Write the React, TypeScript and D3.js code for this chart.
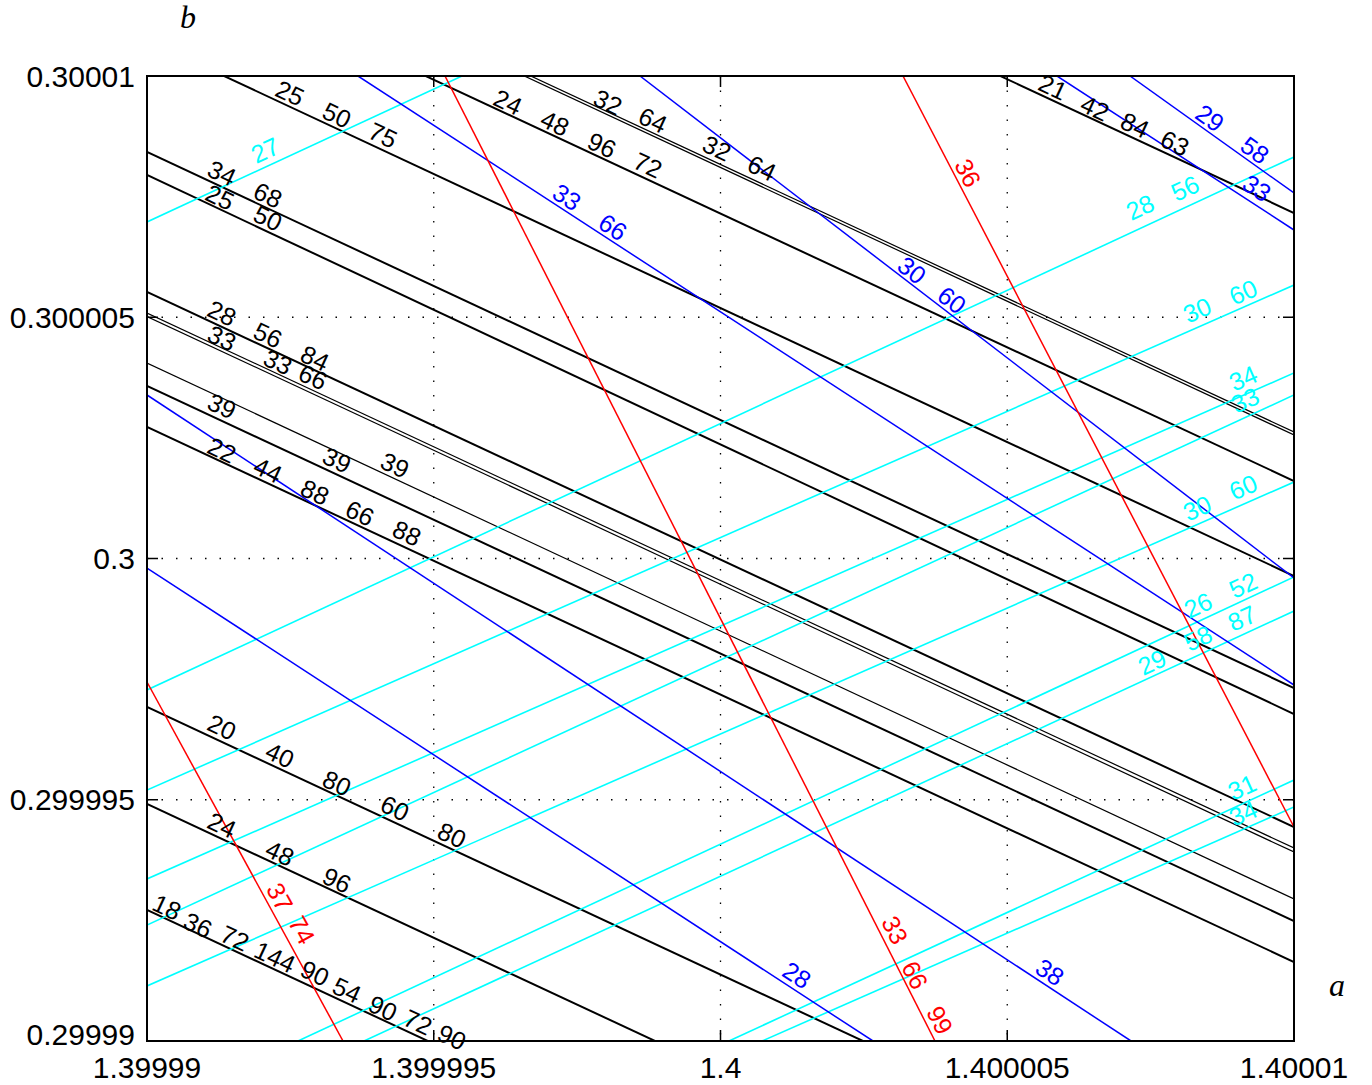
import React from 'react';
import * as d3 from 'd3';

// Axis values: a (horizontal) and b (vertical)
const A0 = 1.4;
const B0 = 0.3;
const U = 1e-6; // offsets below are in units of 1e-6 from (A0, B0)

const xTicks = [1.39999, 1.399995, 1.4, 1.400005, 1.40001];
const xTickLabels = ['1.39999', '1.399995', '1.4', '1.400005', '1.40001'];
const yTicks = [0.29999, 0.299995, 0.3, 0.300005, 0.30001];
const yTickLabels = ['0.29999', '0.299995', '0.3', '0.300005', '0.30001'];

// [id, da1, db1, da2, db2]
const blackLines: [string, number, number, number, number][] = [
  ['B1', -10, 10.746, 10, -0.363],
  ['B2', -10, 12.694, 10, 1.606],
  ['B3a', -10, 13.71, 10, 2.622],
  ['B3b', -10, 13.648, 10, 2.56],
  ['B4', -10, 18.249, 10, 7.161],
  ['B5', -10, 8.425, 10, -2.684],
  ['B6', -10, 7.948, 10, -3.223],
  ['B7', -10, 5.523, 10, -5.565],
  ['B8a', -10, 5.088, 10, -6.0],
  ['B8b', -10, 5.016, 10, -6.083],
  ['B9', -10, 4.052, 10, -7.057],
  ['B10', -10, 3.575, 10, -7.513],
  ['B11', -10, 2.725, 10, -8.363],
  ['B12', -10, -3.078, 10, -14.166],
  ['B13', -10, -5.088, 10, -16.176],
  ['B14', -10, -7.285, 10, -18.373],
];
const thinLines = ['B3a', 'B3b', 'B8a', 'B8b', 'B9'];

const blueLines: [string, number, number, number, number][] = [
  ['L1', -6.321, 10, 10, -2.622],
  ['L2', -1.404, 10, 10, -0.404],
  ['L3', 7.14, 10, 10, 7.575],
  ['L4', 5.868, 10, 10, 6.808],
  ['L5', -10, 3.389, 7.158, -10],
  ['L6', -10, -0.197, 2.659, -10],
];

const redLines: [string, number, number, number, number][] = [
  ['R1', -4.804, 10, 3.74, -10],
  ['R2', 3.182, 10, 10, -5.565],
  ['R3', -10, -2.56, -6.582, -10],
];

const cyanLines: [string, number, number, number, number][] = [
  ['C1', -10, 6.974, -4.507, 10],
  ['C2', -10, -2.725, 10, 8.321],
  ['C3', -10, -4.798, 10, 5.668],
  ['C4', -10, -6.642, 10, 3.845],
  ['C5', -10, -7.596, 10, 3.389],
  ['C6', -10, -8.86, 10, 1.585],
  ['C7', -7.367, -10, 10, -0.383],
  ['C8', -6.216, -10, 10, -1.088],
  ['C9', 0.148, -10, 10, -4.591],
  ['C10', 0.724, -10, 10, -5.15],
];

// [text, lineId, da, db]
const blackLabels: [string, string, number, number][] = [
  ['25', 'B1', -7.507, 9.648], ['50', 'B1', -6.687, 9.192], ['75', 'B1', -5.885, 8.777],
  ['34', 'B5', -8.692, 7.99], ['68', 'B5', -7.89, 7.534],
  ['25', 'B6', -8.727, 7.492], ['50', 'B6', -7.89, 7.057],
  ['24', 'B2', -3.705, 9.461], ['48', 'B2', -2.886, 9.026], ['96', 'B2', -2.066, 8.57], ['72', 'B2', -1.264, 8.155],
  ['32', 'B3a', -1.962, 9.461], ['64', 'B3a', -1.177, 9.088], ['32', 'B3a', -0.061, 8.508], ['64', 'B3a', 0.724, 8.093],
  ['21', 'B4', 5.798, 9.772], ['42', 'B4', 6.53, 9.337], ['84', 'B4', 7.228, 8.984], ['63', 'B4', 7.925, 8.611],
  ['28', 'B7', -8.692, 5.088], ['56', 'B7', -7.89, 4.632], ['84', 'B7', -7.071, 4.155],
  ['33', 'B8a', -8.692, 4.57], ['33', 'B8a', -7.716, 4.073], ['66', 'B8a', -7.105, 3.762],
  ['39', 'B9', -8.692, 3.161], ['39', 'B9', -6.687, 2.041], ['39', 'B9', -5.676, 1.938],
  ['22', 'B11', -8.692, 2.249], ['44', 'B11', -7.89, 1.834], ['88', 'B11', -7.071, 1.378], ['66', 'B11', -6.286, 0.943], ['88', 'B11', -5.466, 0.528],
  ['20', 'B12', -8.692, -3.492], ['40', 'B12', -7.681, -4.073], ['80', 'B12', -6.687, -4.653], ['60', 'B12', -5.676, -5.171], ['80', 'B12', -4.682, -5.731],
  ['24', 'B13', -8.692, -5.523], ['48', 'B13', -7.681, -6.104], ['96', 'B13', -6.687, -6.663],
  ['18', 'B14', -9.651, -7.223], ['36', 'B14', -9.111, -7.596], ['72', 'B14', -8.466, -7.865], ['144', 'B14', -7.768, -8.259],
  ['90', 'B14', -7.071, -8.591], ['54', 'B14', -6.513, -8.943], ['90', 'B14', -5.885, -9.316], ['72', 'B14', -5.275, -9.606], ['90', 'B14', -4.682, -9.917],
];

const redLabels: [string, string, number, number][] = [
  ['36', 'R2', 4.316, 7.99],
  ['37', 'R3', -7.681, -7.016], ['74', 'R3', -7.297, -7.699],
  ['33', 'R1', 3.043, -7.699], ['66', 'R1', 3.391, -8.632], ['99', 'R1', 3.827, -9.565],
];

const blueLabels: [string, string, number, number][] = [
  ['33', 'L1', -2.677, 7.492], ['66', 'L1', -1.874, 6.87],
  ['30', 'L2', 3.339, 5.979], ['60', 'L2', 4.037, 5.358],
  ['29', 'L3', 8.535, 9.13], ['58', 'L3', 9.32, 8.466],
  ['33', 'L4', 9.355, 7.679],
  ['28', 'L6', 1.334, -8.632],
  ['38', 'L5', 5.745, -8.57],
];

const cyanLabels: [string, string, number, number][] = [
  ['27', 'C1', -7.942, 8.466],
  ['28', 'C2', 7.315, 7.285], ['56', 'C2', 8.099, 7.679],
  ['30', 'C3', 8.309, 5.15], ['60', 'C3', 9.111, 5.523],
  ['34', 'C4', 9.111, 3.741],
  ['33', 'C5', 9.146, 3.285],
  ['30', 'C6', 8.309, 1.047], ['60', 'C6', 9.111, 1.482],
  ['52', 'C7', 9.111, -0.549], ['26', 'C7', 8.326, -0.964],
  ['87', 'C8', 9.093, -1.233], ['58', 'C8', 8.326, -1.648], ['29', 'C8', 7.524, -2.145],
  ['31', 'C9', 9.093, -4.736],
  ['34', 'C10', 9.111, -5.275],
];

const W = 1372;
const H = 1085;
const left = 147, right = 1294, top = 76, bottom = 1041;

export default function App() {
  const x = d3.scaleLinear().domain([1.39999, 1.40001]).range([left, right]);
  const y = d3.scaleLinear().domain([0.29999, 0.30001]).range([bottom, top]);
  const ax = (d: number) => x(A0 + d * U);
  const by = (d: number) => y(B0 + d * U);

  const groups = [
    { lines: blackLines, color: '#000000', width: 2 },
    { lines: cyanLines, color: '#00ffff', width: 1.6 },
    { lines: blueLines, color: '#0000ff', width: 1.5 },
    { lines: redLines, color: '#ff0000', width: 1.5 },
  ];
  const allLines = [...blackLines, ...blueLines, ...redLines, ...cyanLines];
  const angleOf = (id: string) => {
    const l = allLines.find((d) => d[0] === id)!;
    const dx = ax(l[3]) - ax(l[1]);
    const dy = by(l[4]) - by(l[2]);
    return (Math.atan2(dy, dx) * 180) / Math.PI;
  };
  const labelGroups = [
    { labels: blackLabels, color: '#000000' },
    { labels: cyanLabels, color: '#00ffff' },
    { labels: blueLabels, color: '#0000ff' },
    { labels: redLabels, color: '#ff0000' },
  ];
  const line = d3.line<[number, number]>();

  return (
    <svg
      width={W}
      height={H}
      style={{ position: 'absolute', left: 0, top: 0, background: '#fff' }}
      fontFamily="'Liberation Sans', Arial, sans-serif"
    >
      <defs>
        <clipPath id="plotclip">
          <rect x={left} y={top} width={right - left} height={bottom - top} />
        </clipPath>
      </defs>
      {/* grid */}
      <g stroke="#000" strokeWidth={1.3} strokeDasharray="1.5 13">
        {xTicks.slice(1, -1).map((t, i) => (
          <line key={'gx' + i} x1={x(t)} x2={x(t)} y1={top} y2={bottom} />
        ))}
        {yTicks.slice(1, -1).map((t, i) => (
          <line key={'gy' + i} x1={left} x2={right} y1={y(t)} y2={y(t)} />
        ))}
      </g>
      {/* lines */}
      <g clipPath="url(#plotclip)" fill="none">
        {groups.map((g, gi) =>
          g.lines.map((l, i) => (
            <path
              key={gi + '-' + i}
              d={line([
                [ax(l[1]), by(l[2])],
                [ax(l[3]), by(l[4])],
              ])!}
              stroke={g.color}
              strokeWidth={thinLines.includes(l[0]) ? 1.2 : g.width}
            />
          ))
        )}
      </g>
      {/* labels */}
      {labelGroups.map((g, gi) =>
        g.labels.map((lb, i) => {
          const px = ax(lb[2]);
          const py = by(lb[3]);
          return (
            <text
              key={'lb' + gi + '-' + i}
              x={px}
              y={py}
              fill={g.color}
              fontSize={25}
              textAnchor="middle"
              dominantBaseline="central"
              transform={`rotate(${angleOf(lb[1])},${px},${py})`}
            >
              {lb[0]}
            </text>
          );
        })
      )}
      {/* box */}
      <rect x={left} y={top} width={right - left} height={bottom - top} fill="none" stroke="#000" strokeWidth={2} />
      {/* ticks */}
      <g stroke="#000" strokeWidth={1.5}>
        {xTicks.map((t, i) => (
          <g key={'tx' + i}>
            <line x1={x(t)} x2={x(t)} y1={bottom} y2={bottom - 11} />
            <line x1={x(t)} x2={x(t)} y1={top} y2={top + 11} />
          </g>
        ))}
        {yTicks.map((t, i) => (
          <g key={'ty' + i}>
            <line x1={left} x2={left + 11} y1={y(t)} y2={y(t)} />
            <line x1={right} x2={right - 11} y1={y(t)} y2={y(t)} />
          </g>
        ))}
      </g>
      {xTicks.map((t, i) => (
        <text key={'xl' + i} x={x(t)} y={1078} fontSize={30} textAnchor="middle" fill="#000">
          {xTickLabels[i]}
        </text>
      ))}
      {yTicks.map((t, i) => (
        <text key={'yl' + i} x={135} y={y(t) - (i === 0 ? 7 : 0)} fontSize={30} textAnchor="end" dominantBaseline="central" fill="#000">
          {yTickLabels[i]}
        </text>
      ))}
      <text x={188} y={28} fontSize={32} fontStyle="italic" fontFamily="'Liberation Serif', 'Times New Roman', serif" textAnchor="middle">
        b
      </text>
      <text x={1337} y={996} fontSize={32} fontStyle="italic" fontFamily="'Liberation Serif', 'Times New Roman', serif" textAnchor="middle">
        a
      </text>
    </svg>
  );
}
